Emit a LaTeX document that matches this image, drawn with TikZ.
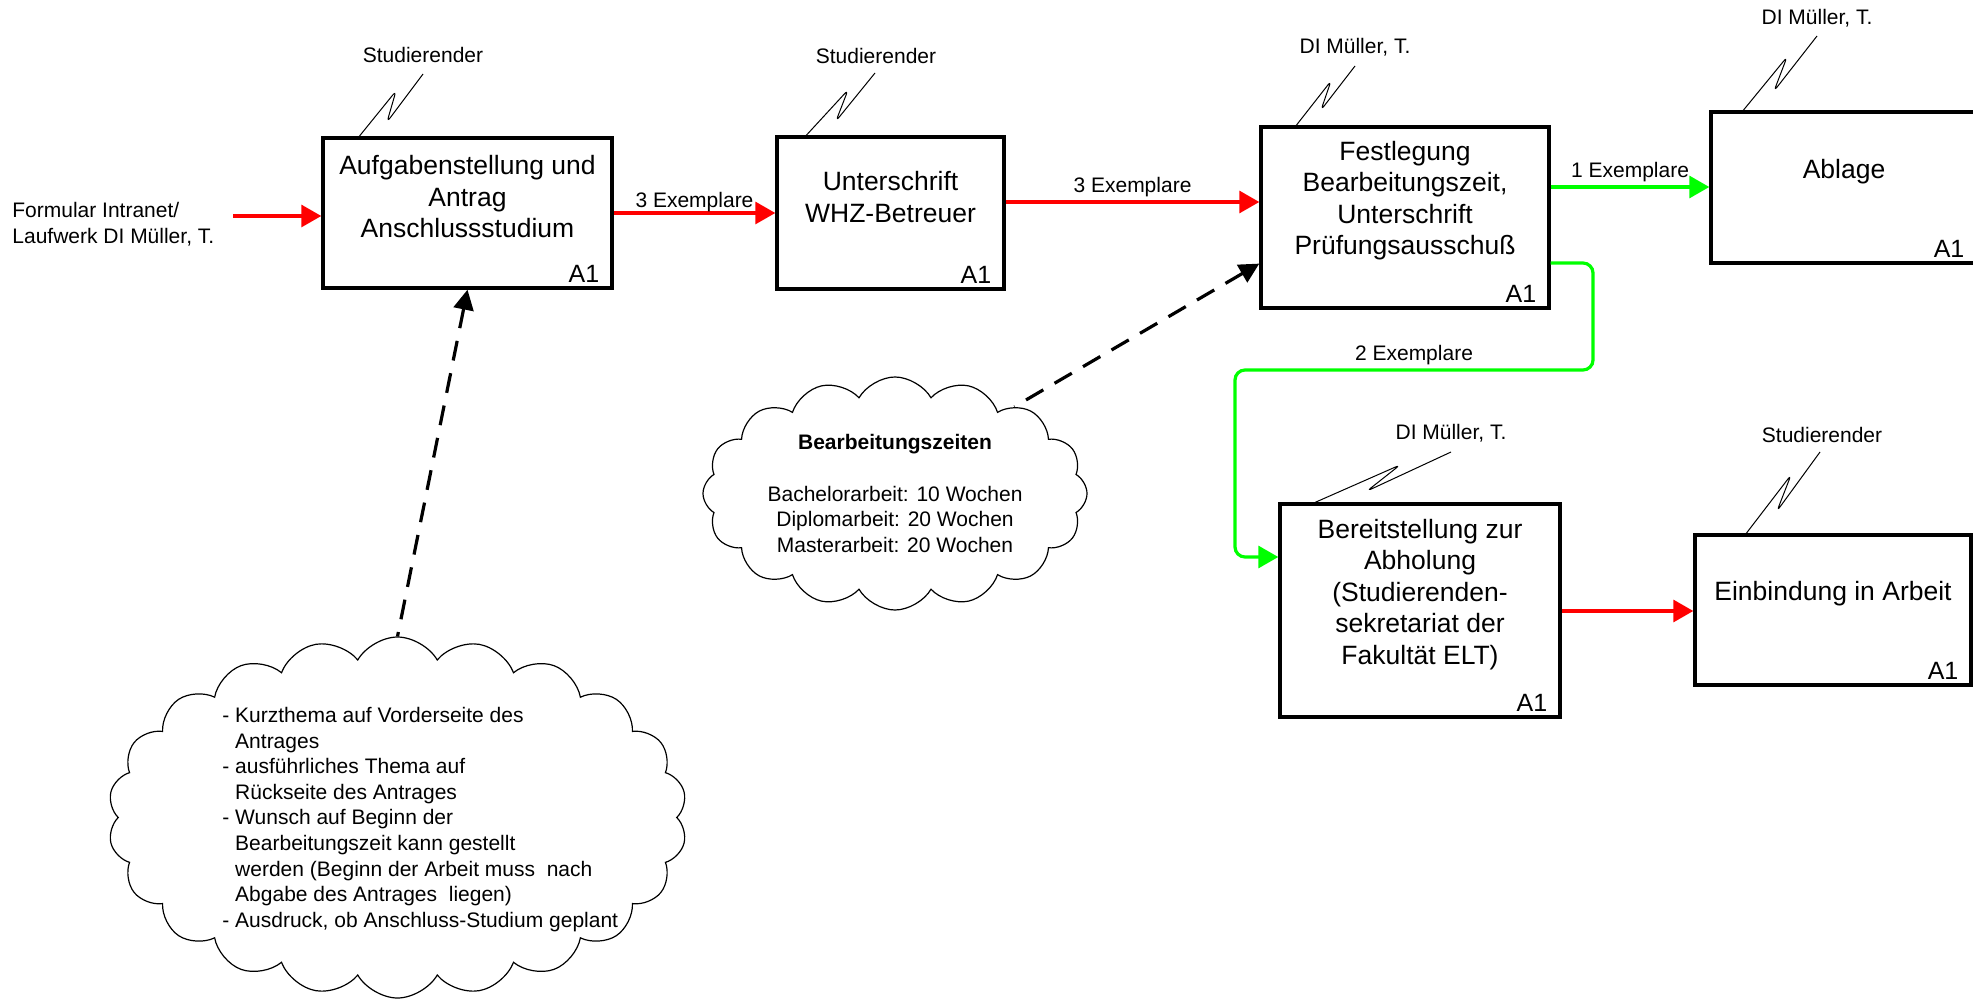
\documentclass[tikz,border=0pt]{standalone}
\usepackage{fontspec}
\setmainfont{Liberation Sans}
\usetikzlibrary{arrows.meta,shapes.symbols,calc}
\definecolor{ared}{RGB}{255,0,0}
\definecolor{agreen}{RGB}{0,255,0}
\begin{document}
\begin{tikzpicture}[x=0.5pt,y=-0.5pt,
  box/.style={draw, line width=1.7pt, rectangle, inner sep=0pt, fill=white},
  boxtext/.style={font=\fontsize{13.25}{15.75}\selectfont, align=center, inner sep=0pt},
  lbl/.style={font=\fontsize{10.5}{12.8}\selectfont, inner sep=0pt},
  anum/.style={font=\fontsize{12.5}{14}\selectfont, inner sep=0pt, anchor=base east},
  redarrow/.style={draw=ared, line width=1.6pt, -{Triangle[length=10pt,width=11pt]}},
  greenarrow/.style={draw=agreen, line width=1.6pt, -{Triangle[length=10pt,width=11pt]}},
  dasharrow/.style={draw=black, line width=1.6pt, dash pattern=on 10pt off 6.5pt, {Triangle[length=10pt,width=10pt]}-},
  squig/.style={draw, line width=0.5pt, rounded corners=2.5pt},
  cloudbox/.style={draw, cloud, cloud ignores aspect, cloud puff arc=120, line width=0.6pt, inner sep=0pt, fill=white}
]
\useasboundingbox (0,0) rectangle (1973,999);
\fill[white] (0,0) rectangle (1973,999);

% boxes
\node[box, minimum width=144.5pt, minimum height=75pt] (b1) at (467.5,213) {};
\node[boxtext] (b1t) at ($(b1.center)+(0,-16)$) {Aufgabenstellung und\\Antrag\\Anschlussstudium};
\node[anum] (b1a) at ($(b1.south east)+(-14,-7)$) {A1};

\node[box, minimum width=113.5pt, minimum height=76pt] (b2) at (890.5,213) {};
\node[boxtext] (b2t) at ($(b2.center)+(0,-16)$) {Unterschrift\\WHZ-Betreuer};
\node[anum] (b2a) at ($(b2.south east)+(-14,-7)$) {A1};

\node[box, minimum width=144pt, minimum height=90.5pt] (b3) at (1405,217.5) {};
\node[boxtext] (b3t) at ($(b3.center)+(0,-17)$) {Festlegung\\Bearbeitungszeit,\\Unterschrift\\Prüfungsausschuß};
\node[anum] (b3a) at ($(b3.south east)+(-14,-7)$) {A1};

\node[box, minimum width=133pt, minimum height=75.5pt] (ab) at (1844,187.5) {};
\node[boxtext] (abt) at ($(ab.center)+(0,-16)$) {Ablage};
\node[anum] (aba) at ($(ab.south east)+(-14,-7)$) {A1};

\node[box, minimum width=140pt, minimum height=106.5pt] (b4) at (1420,610.5) {};
\node[boxtext] (b4t) at ($(b4.center)+(0,-16)$) {Bereitstellung zur\\Abholung\\(Studierenden-\\sekretariat der\\Fakultät ELT)};
\node[anum] (b4a) at ($(b4.south east)+(-14,-7)$) {A1};

\node[box, minimum width=138pt, minimum height=75pt] (b5) at (1833,610) {};
\node[boxtext] (b5t) at ($(b5.center)+(0,-16)$) {Einbindung in Arbeit};
\node[anum] (b5a) at ($(b5.south east)+(-14,-7)$) {A1};

% actor labels and squiggles
\node[lbl] (l1) at (423,55) {Studierender};
\draw[squig] ($(b1.north west)+(38,0)$) -- (396,91) -- (387,122) -- (423,74);
\node[lbl] (l2) at (876,56) {Studierender};
\draw[squig] ($(b2.north west)+(31,0)$) -- (848,90) -- (836,121) -- (875,73);
\node[lbl] (l3) at (1355,47) {DI Müller, T.};
\draw[squig] ($(b3.north west)+(37,0)$) -- (1331,81) -- (1321,110) -- (1355,66);
\node[lbl] (l4) at (1817,18) {DI Müller, T.};
\draw[squig] ($(ab.north west)+(34,0)$) -- (1787,57) -- (1774,91) -- (1817,36);
\node[lbl] (l5) at (1451,433) {DI Müller, T.};
\draw[squig] ($(b4.north west)+(37,0)$) -- (1400,465) -- (1367,491) -- (1451,452);
\node[lbl] (l6) at (1822,435) {Studierender};
\draw[squig] ($(b5.north west)+(53,0)$) -- (1791,475) -- (1777,511) -- (1820,452);

% source
\node[lbl, align=left, anchor=west] (src) at (12,224.5) {Formular Intranet/\\Laufwerk DI Müller, T.};
\coordinate (fa) at (233,216);
\draw[redarrow] (fa) -- (b1.west |- fa);

% flows
\draw[redarrow] (b1.east) -- node[lbl, above=0pt] (e1) {3 Exemplare} (b2.west);
\draw[redarrow] (b2.east |- 0,202) -- node[lbl, above=2pt] (e2) {3 Exemplare} (b3.west |- 0,202);
\draw[greenarrow] (b3.east |- 0,187) -- node[lbl, above=2pt] (e3) {1 Exemplare} (ab.west |- 0,187);
\draw[greenarrow, rounded corners=5pt] (b3.east |- 0,263) -- (1593,263) -- (1593,370)
  -- node[lbl, above=2pt] (e4) {2 Exemplare} (1235,370) -- (1235,557) -- (b4.west |- 0,557);
\draw[redarrow] (b4.east |- 0,611) -- (b5.west |- 0,611);

% clouds
\node[cloudbox, cloud puffs=16, minimum width=192pt, minimum height=116.5pt] (c1) at (895,493.5) {};
\node[lbl, align=center] (c1t) at (c1.center) {\textbf{Bearbeitungszeiten}\\[13pt]Bachelorarbeit: 10 Wochen\\Diplomarbeit: 20 Wochen\\Masterarbeit: 20 Wochen};

\node[cloudbox, cloud puffs=22, minimum width=289.5pt, minimum height=180.5pt] (c2) at (397.5,817.5) {};
\node[lbl, align=left, anchor=west] (c2t) at (222,819.5) {- Kurzthema auf Vorderseite des\\\hphantom{-\ }Antrages\\- ausführliches Thema auf\\\hphantom{-\ }Rückseite des Antrages\\- Wunsch auf Beginn der\\\hphantom{-\ }Bearbeitungszeit kann gestellt\\\hphantom{-\ }werden (Beginn der Arbeit muss\ \ nach\\\hphantom{-\ }Abgabe des Antrages\ \ liegen)\\- Ausdruck, ob Anschluss-Studium geplant};

\draw[dasharrow] (b1.south) -- (c2.north);
\draw[dasharrow] ($(b3.north west)!0.75!(b3.south west)$) -- (c1.36);
\end{tikzpicture}
\end{document}
